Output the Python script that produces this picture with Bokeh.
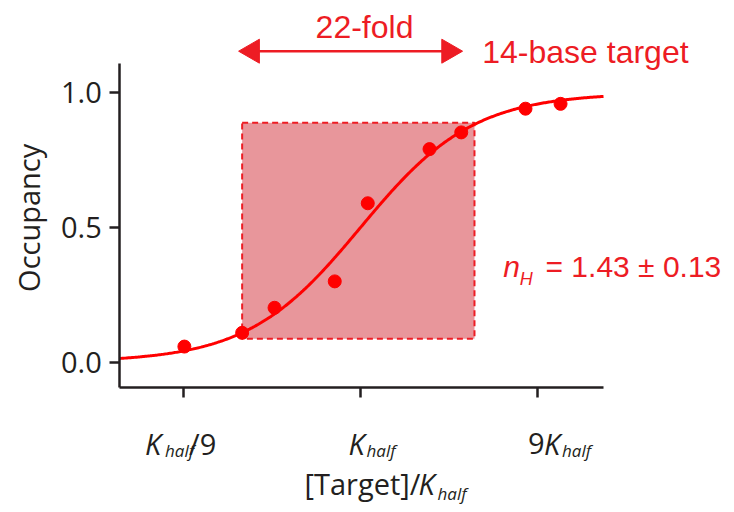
import numpy as np
from bokeh.plotting import figure
from bokeh.models import (Label, FixedTicker, Range1d,
                          NumeralTickFormatter, CustomJSTickFormatter)
from bokeh.embed import file_html
from bokeh.resources import INLINE

# ---------------- data ----------------
conc = [0.113, 0.231, 0.345, 0.727, 1.094, 2.35, 3.48, 7.71, 11.9]      # [Target]/Khalf
occupancy = [0.058, 0.109, 0.202, 0.300, 0.590, 0.791, 0.853, 0.941, 0.959]
n_hill = 1.43
n_hill_err = 0.13
k_half = 1.0
fold = 22
window_x = [0.231, 4.10]
window_y = [0.087, 0.889]
fold_arrow_x = [0.221, 3.54]
fold_arrow_y = 1.1544
x_ticks = [1 / 9, 1, 9]
y_ticks = [0.0, 0.5, 1.0]
x_axis_span = [0.0508, 20.25]      # extent of the drawn x axis
y_axis_span = [-0.0928, 1.1076]    # extent of the drawn y axis
x_view = [0.01160, 102.5]          # whole canvas
y_view = [-0.5579, 1.3426]

RED = "#ff0000"
TRED = "#ed1c24"
BLACK = "#231f20"
AX_FONT = "Open Sans"
RED_FONT = "Liberation Sans"

W, H = 734, 512
p = figure(x_axis_type="log", x_range=Range1d(*x_view), y_range=Range1d(*y_view),
           width=W, height=H, min_border=0,
           output_backend="svg", toolbar_location=None)
p.grid.visible = False
p.outline_line_color = None
p.background_fill_color = "white"
p.border_fill_color = "white"

for ax in (p.xaxis[0], p.yaxis[0]):
    ax.axis_line_width = 2.5
    ax.axis_line_color = BLACK
    ax.major_tick_line_width = 2.5
    ax.major_tick_line_color = BLACK
    ax.major_tick_out = 10
    ax.major_tick_in = 0
    ax.minor_tick_line_color = None

p.xaxis.fixed_location = y_axis_span[0]
p.xaxis.bounds = tuple(x_axis_span)
p.yaxis.fixed_location = x_axis_span[0]
p.yaxis.bounds = tuple(y_axis_span)

p.xaxis.ticker = FixedTicker(ticks=x_ticks)
p.xaxis.formatter = CustomJSTickFormatter(code="return ''")
p.yaxis.ticker = FixedTicker(ticks=y_ticks)
p.yaxis.formatter = NumeralTickFormatter(format="0.0")
p.yaxis.major_label_text_font = AX_FONT
p.yaxis.major_label_text_font_size = "29px"
p.yaxis.major_label_text_color = BLACK
p.yaxis.major_label_standoff = 8

# shaded window
p.quad(left=[window_x[0]], right=[window_x[1]], bottom=[window_y[0]], top=[window_y[1]],
       fill_color="#e8969b", fill_alpha=1.0, line_color=TRED, line_width=2,
       line_dash="6 4")

# Hill fit curve
xs = np.logspace(np.log10(x_axis_span[0]), np.log10(x_axis_span[1]), 400)
ys = xs ** n_hill / (k_half ** n_hill + xs ** n_hill)
p.line(xs, ys, line_color=RED, line_width=3)

# data points
p.scatter(conc, occupancy, size=13, fill_color=RED, line_color=RED)

# double arrow above the plot: shaft + two triangular heads
px_per_decade = W / np.log10(x_view[1] / x_view[0])
head_shift = 10 ** (13.9 / px_per_decade)
p.segment(x0=[fold_arrow_x[0] * head_shift], y0=[fold_arrow_y],
          x1=[fold_arrow_x[1] / head_shift], y1=[fold_arrow_y],
          line_color=TRED, line_width=2.5)
p.scatter(x=[fold_arrow_x[0] * head_shift, fold_arrow_x[1] / head_shift],
          y=[fold_arrow_y, fold_arrow_y], marker="triangle", size=24,
          angle=[np.pi / 2, -np.pi / 2], fill_color=TRED, line_color=TRED)


def lab(text, x, y, xo, yo, size, font=AX_FONT, style="normal", color=BLACK,
        align="left", angle=0.0):
    p.add_layout(Label(x=x, y=y, x_offset=xo, y_offset=yo, text=text,
                       text_font=font, text_font_size=f"{size}px",
                       text_font_style=style, text_color=color,
                       text_align=align, text_baseline="alphabetic",
                       angle=angle))


y0 = y_axis_span[0]
y1 = y_axis_span[1]
# x tick labels
lab("K", x_ticks[0], y0, -38, -56.6, 29, style="italic")
lab("half", x_ticks[0], y0, -18, -63.3, 17, style="italic")
lab("/9", x_ticks[0], y0, 6, -56.6, 29)
lab("K", x_ticks[1], y0, -12, -56.6, 29, style="italic")
lab("half", x_ticks[1], y0, 6, -63.3, 17, style="italic")
lab("9", x_ticks[2], y0, -10, -56.6, 29)
lab("K", x_ticks[2], y0, 6, -56.6, 29, style="italic")
lab("half", x_ticks[2], y0, 24, -63.3, 17, style="italic")

# x axis title
lab("[Target]/", 1, y0, -56, -96.6, 29)
lab("K", 1, y0, 58, -96.6, 29, style="italic")
lab("half", 1, y0, 77, -106.6, 17, style="italic")

# y axis title
lab("Occupancy", x_axis_span[0], 0.5, -91.6, 9.7, 29, align="center", angle=np.pi / 2)

# red annotations
lab(f"{fold}-fold", 1, y1, 4, 37, 32, font=RED_FONT, color=TRED, align="center")
lab("14-base target", 1, y1, 121.7, 12, 32, font=RED_FONT, color=TRED)
lab("n", 1, 0, 142.7, 95.7, 30, font=RED_FONT, color=TRED, style="italic")
lab("H", 1, 0, 159.3, 83.4, 18, font=RED_FONT, color=TRED, style="italic")
lab(f"= {n_hill:.2f} ± {n_hill_err:.2f}", 1, 0, 185, 95.7, 30, font=RED_FONT,
    color=TRED)

open("out.html", "w").write(file_html(p, INLINE))
